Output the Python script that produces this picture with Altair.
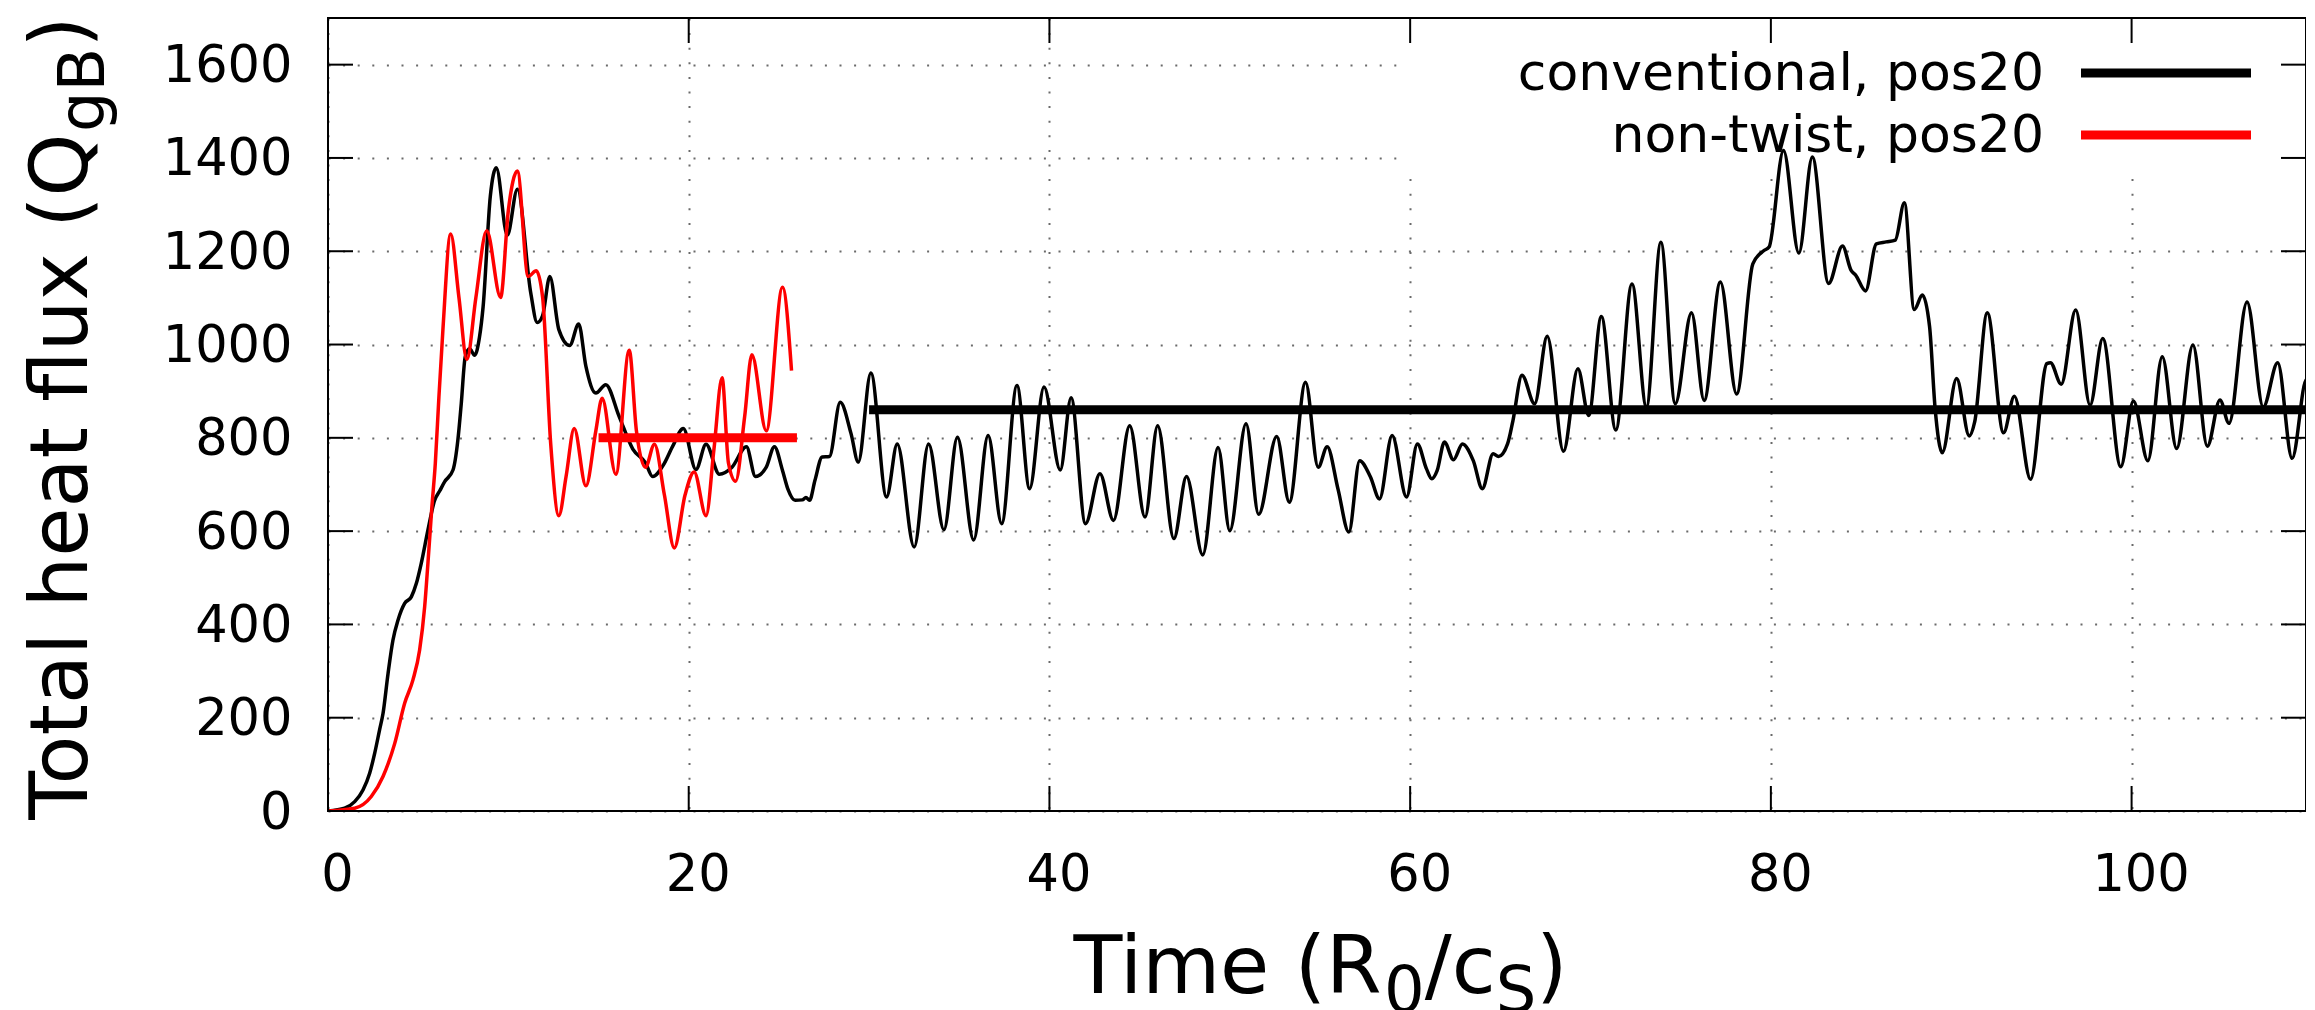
import altair as alt
import pandas as pd

# ---------------- data ----------------
series_names = ["conventional, pos20", "non-twist, pos20"]
series_colors = ["#000000", "#ff0000"]

conv_t = [0, 0.92, 1.48, 1.94, 2.31, 2.59, 2.86, 3.05, 3.33, 3.6, 3.88, 4.25, 4.62, 4.9, 5.17,
          5.54, 5.91, 6.19, 6.47, 6.93, 7.2, 7.39, 7.61, 7.85, 8.13, 8.4, 8.6, 9.0, 9.33, 9.94,
          10.5, 11.24, 11.6, 11.9, 12.3, 12.8, 13.4, 13.9, 14.3, 14.85, 15.4, 16.15, 16.9, 17.6,
          18.0, 18.6, 19.1, 19.7, 20.4, 20.96, 21.7, 22.4, 23.2, 23.7, 24.3, 24.75, 25.2, 25.5,
          25.9, 26.3, 26.5, 26.7, 27.0, 27.4, 27.8, 28.4, 29.0, 29.4, 30.1, 30.97, 31.56, 32.5,
          33.3, 34.15, 34.9, 35.8, 36.6, 37.35, 38.2, 38.9, 39.7, 40.6, 41.2, 42.0, 42.8, 43.55,
          44.45, 45.3, 46.0, 46.9, 47.6, 48.5, 49.35, 50.0, 50.9, 51.6, 52.6, 53.3, 54.2, 54.9,
          55.4, 56.0, 56.6, 57.2, 57.8, 58.3, 59.0, 59.8, 60.4, 60.9, 61.2, 61.5, 61.9, 62.4,
          62.9, 63.5, 64.0, 64.6, 64.9, 65.4, 65.7, 66.2, 66.9, 67.6, 68.5, 69.3, 69.9, 70.6,
          71.4, 72.3, 73.1, 73.9, 74.7, 75.6, 76.3, 77.2, 78.1, 79.0, 79.6, 79.9, 80.7, 81.55,
          82.3, 83.2, 83.97, 84.45, 84.7, 85.25, 85.85, 86.4, 86.9, 87.4, 87.95, 88.4, 88.8,
          89.1, 89.5, 90.3, 91.0, 91.3, 92.0, 92.9, 93.5, 94.4, 95.3, 95.5, 96.1, 96.9, 97.7,
          98.4, 99.4, 100.1, 100.9, 101.7, 102.5, 103.4, 104.2, 104.9, 105.4, 106.4, 107.3,
          108.1, 108.9, 109.7, 110.0]
conv_v = [0, 6, 20, 45, 81, 124, 174, 209, 295, 366, 409, 445, 459, 488, 531,
          602, 666, 686, 706, 731, 795, 874, 974, 991, 977, 1016, 1081, 1318, 1379, 1234,
          1333, 1111, 1047, 1062, 1146, 1032, 998, 1044, 953, 896, 914, 845, 776, 747,
          717, 742, 781, 820, 732, 786, 722, 737, 781, 717, 737, 781, 730, 690,
          666, 667, 672, 666, 709, 759, 760, 876, 809, 748, 939, 673, 787, 566,
          787, 603, 801, 581, 805, 616, 912, 691, 909, 731, 886, 616, 723, 623,
          826, 630, 826, 584, 717, 549, 779, 601, 830, 636, 803, 662, 919, 737,
          781, 690, 598, 751, 716, 669, 805, 673, 787, 734, 712, 730, 791, 753,
          787, 751, 691, 766, 760, 787, 837, 934, 873, 1018, 771, 948, 848, 1060,
          817, 1130, 866, 1219, 873, 1068, 880, 1134, 894, 1173, 1201, 1209, 1416, 1196,
          1402, 1131, 1211, 1159, 1149, 1115, 1216, 1220, 1224, 1304, 1075, 1106, 1038,
          866, 768, 927, 804, 834, 1068, 811, 889, 711, 959, 961, 915, 1074, 870,
          1013, 738, 879, 751, 974, 777, 999, 782, 881, 831, 1091, 866,
          961, 756, 925, 816]

nt_t = [0, 1.48, 2.4, 3.05, 3.7, 4.25, 4.71, 5.08, 5.36, 5.54, 5.76, 5.95, 6.15, 6.37, 6.8,
        7.26, 7.7, 8.2, 8.8, 9.57, 10.0, 10.5, 11.1, 11.55, 11.9, 12.35, 12.8, 13.2, 13.65,
        14.3, 14.85, 15.2, 15.96, 16.7, 17.1, 17.6, 18.1, 18.65, 19.2, 19.8, 20.3, 20.96,
        21.4, 21.85, 22.2, 22.6, 23.1, 23.5, 24.3, 25.2, 25.7]
nt_v = [0, 6, 31, 74, 145, 231, 281, 345, 438, 531, 652, 745, 888, 1031, 1237,
        1101, 968, 1101, 1244, 1101, 1288, 1372, 1146, 1158, 1101, 786, 633, 717, 820,
        697, 815, 885, 722, 988, 815, 737, 786, 678, 564, 678, 727, 633,
        776, 929, 747, 707, 845, 978, 815, 1123, 944]

mean_values = [860, 800]
mean_start = [30, 15]
mean_end = [110, 26]

x_ticks = [0, 20, 40, 60, 80, 100]
y_ticks = [0, 200, 400, 600, 800, 1000, 1200, 1400, 1600]

# ---------------- layout ----------------
W, H = 1978, 793
X_MAX = 109.67
Y_MAX = 1700
FONT = "DejaVu Sans"
TICK_LEN = 25

ADV = {"T": 1251, "o": 1253, "t": 803, "a": 1255, "l": 569, " ": 651, "h": 1298, "e": 1260,
       "f": 721, "u": 1298, "x": 1212, "(": 799, "Q": 1612, "g": 1300, "B": 1405, ")": 799,
       "i": 569, "m": 1995, "R": 1423, "0": 1303, "/": 690, "c": 1126, "S": 1300}


def tw(s, size):
    return sum(ADV.get(ch, 1250) for ch in s) / 2048.0 * size


xscale = alt.Scale(domain=[0, X_MAX], nice=False, zero=False)
yscale = alt.Scale(domain=[0, Y_MAX], nice=False, zero=False)

common_axis = dict(title="", grid=True, gridColor="#6a6a6a", gridDash=[2, 12.6], gridWidth=2,
                   ticks=False, domain=False, labelFont=FONT, labelFontSize=51,
                   labelColor="black", labelFlush=False, labelOverlap=False, format="d")
xaxis = alt.Axis(values=x_ticks, labelPadding=39, labelOffset=9, **common_axis)
yaxis = alt.Axis(values=y_ticks, labelPadding=36, labelOffset=2, **common_axis)


def X(field):
    return alt.X(field, type="quantitative", scale=xscale, axis=xaxis)


def Y(field):
    return alt.Y(field, type="quantitative", scale=yscale, axis=yaxis)


one = pd.DataFrame({"k": [0]})

conv_df = pd.DataFrame({"t": conv_t, "v": conv_v})
nt_df = pd.DataFrame({"t": nt_t, "v": nt_v})
mean_df = pd.DataFrame({"series": series_names, "mean": mean_values,
                        "t0": mean_start, "t1": mean_end})
xt_df = pd.DataFrame({"t": x_ticks})
yt_df = pd.DataFrame({"v": y_ticks})

layers = []

# opaque key box (hides the grid under the key)
layers.append(alt.Chart(one).mark_rect(color="white").encode(
    x=alt.value(1079), x2=alt.value(W - 1), y=alt.value(1), y2=alt.value(159)))

# conventional series + its mean
layers.append(alt.Chart(conv_df).mark_line(
    color=series_colors[0], strokeWidth=3.5, interpolate="monotone", clip=True,
    strokeJoin="round").encode(x=X("t"), y=Y("v")))
layers.append(alt.Chart(mean_df.iloc[[0]]).mark_rule(
    color=series_colors[0], strokeWidth=9, strokeCap="butt", clip=True).encode(
    x=X("t0"), x2="t1", y=Y("mean")))

# non-twist series + its mean
layers.append(alt.Chart(nt_df).mark_line(
    color=series_colors[1], strokeWidth=3.5, interpolate="monotone", clip=True,
    strokeJoin="round").encode(x=X("t"), y=Y("v")))
layers.append(alt.Chart(mean_df.iloc[[1]]).mark_rule(
    color=series_colors[1], strokeWidth=9, strokeCap="butt", clip=True).encode(
    x=X("t0"), x2="t1", y=Y("mean")))

# inward ticks on all four sides
layers.append(alt.Chart(yt_df).mark_rule(color="black", strokeWidth=2).encode(
    y=Y("v"), x=alt.value(0), x2=alt.value(TICK_LEN)))
layers.append(alt.Chart(yt_df).mark_rule(color="black", strokeWidth=2).encode(
    y=Y("v"), x=alt.value(W - TICK_LEN), x2=alt.value(W)))
layers.append(alt.Chart(xt_df).mark_rule(color="black", strokeWidth=2).encode(
    x=X("t"), y=alt.value(H - TICK_LEN), y2=alt.value(H)))
layers.append(alt.Chart(xt_df).mark_rule(color="black", strokeWidth=2).encode(
    x=X("t"), y=alt.value(0), y2=alt.value(TICK_LEN)))

# border
layers.append(alt.Chart(one).mark_rect(fillOpacity=0, stroke="black", strokeWidth=2).encode(
    x=alt.value(0), x2=alt.value(W), y=alt.value(0), y2=alt.value(H)))

# key
key_y = [55, 117]
for name, col, ly in zip(series_names, series_colors, key_y):
    layers.append(alt.Chart(one).mark_rule(color=col, strokeWidth=9, strokeCap="butt").encode(
        x=alt.value(1753), x2=alt.value(1923), y=alt.value(ly)))
    layers.append(alt.Chart(one).mark_text(
        align="right", baseline="alphabetic", font=FONT, fontSize=52, color="black").encode(
        x=alt.value(1716), y=alt.value(ly + 17), text=alt.value(name)))

# axis titles with subscripts
MAIN, SUB = 80, 64

# x title: Time (R_0/c_S)
x_parts = [("Time (R", MAIN, 0, 0), ("0", SUB, 19, 0), ("/c", MAIN, 0, 0),
           ("S", SUB, 19, 0), (")", MAIN, 0, 0)]
x_total = sum(tw(s, fs) + k for s, fs, _, k in x_parts)
cur = 992.5 - x_total / 2
for s, fs, dy, k in x_parts:
    layers.append(alt.Chart(one).mark_text(
        align="left", baseline="alphabetic", font=FONT, fontSize=fs, color="black").encode(
        x=alt.value(cur), y=alt.value(975 + dy), text=alt.value(s)))
    cur += tw(s, fs) + k

# y title: Total heat flux (Q_gB)   (k = kerning correction of the rendered run)
y_parts = [("Total heat flux (Q", MAIN, 0, -12), ("gB", SUB, 17, 0), (")", MAIN, 0, 0)]
y_total = sum(tw(s, fs) + k for s, fs, _, k in y_parts)
cur = 400 + y_total / 2
for s, fs, dx, k in y_parts:
    layers.append(alt.Chart(one).mark_text(
        align="left", baseline="alphabetic", font=FONT, fontSize=fs, color="black",
        angle=270).encode(
        x=alt.value(-241 + dx), y=alt.value(cur), text=alt.value(s)))
    cur -= tw(s, fs) + k

chart = alt.layer(*layers).properties(
    width=W, height=H,
    padding={"left": 320, "top": 10, "right": 0, "bottom": 199},
    autosize=alt.AutoSizeParams(type="none"),
    background="white",
).configure_view(strokeWidth=0)

chart.save("out.html", embed_options={"renderer": "svg", "actions": False})
